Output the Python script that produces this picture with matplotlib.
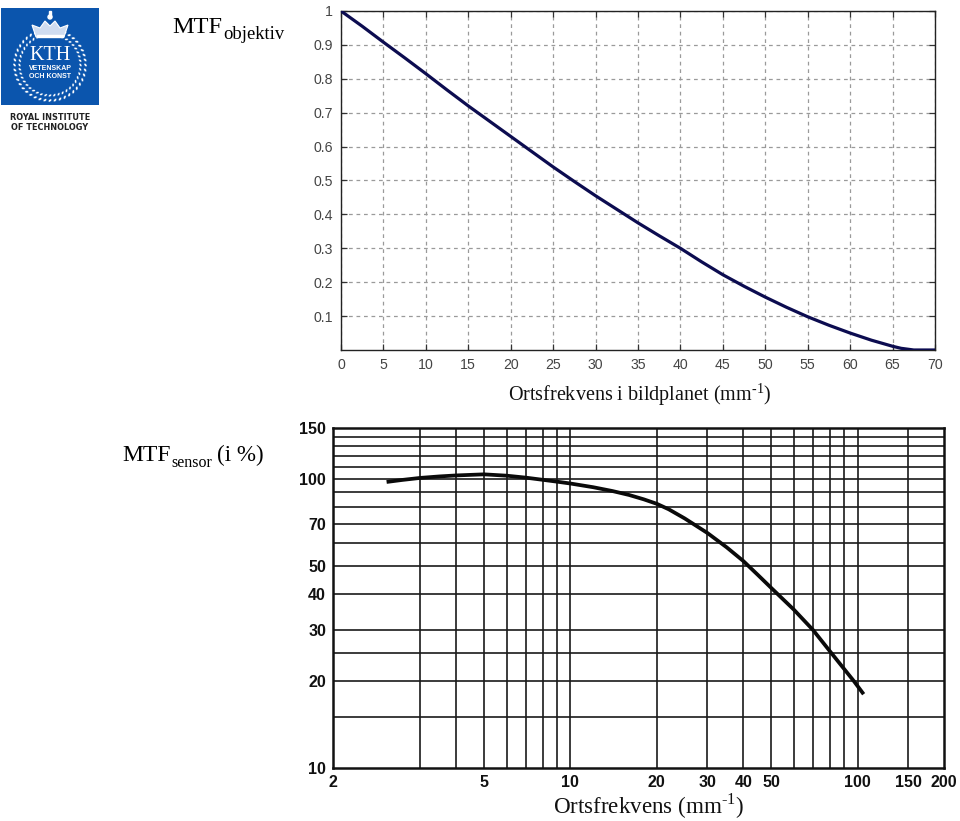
import matplotlib
matplotlib.use('Agg')
import matplotlib.pyplot as plt
from matplotlib.patches import Rectangle, Circle, Polygon, Ellipse
from matplotlib.ticker import NullLocator, NullFormatter
import numpy as np

plt.rcParams['mathtext.fontset'] = 'custom'
plt.rcParams['mathtext.rm'] = 'Liberation Serif'

W, H = 960, 821

# objective MTF (top plot)
obj_freq = [0, 2.5, 5, 7.5, 10, 12.5, 15, 17.5, 20, 22.5, 25, 27.5, 30, 32.5, 35, 37.5, 40,
            42.5, 45, 47.5, 50, 52.5, 55, 57.5, 60, 62.5, 65, 66, 67.5, 70]
obj_mtf = [1.0, 0.955, 0.908, 0.862, 0.815, 0.767, 0.72, 0.675, 0.63, 0.585, 0.54, 0.497,
           0.455, 0.415, 0.375, 0.337, 0.30, 0.26, 0.222, 0.188, 0.156, 0.126, 0.098, 0.073,
           0.05, 0.029, 0.011, 0.005, 0.0, 0.0]

# sensor MTF in % (bottom plot)
sensor_freq = [2.29, 2.6, 3, 3.5, 4, 5, 6, 7, 8, 9, 10, 12, 14, 16, 18, 20, 22, 25, 30, 35,
               40, 45, 50, 60, 70, 81, 97, 105]
sensor_mtf = [97.6, 99.2, 100.8, 102, 102.8, 103.7, 102.6, 101, 99.3, 97.8, 96.4, 93.6,
              90.8, 88, 85, 82, 78.5, 73, 65, 58, 52, 46.5, 42, 35.3, 30, 25, 20, 18]

obj_xticks = list(range(0, 75, 5))
obj_yticks = [0.1, 0.2, 0.3, 0.4, 0.5, 0.6, 0.7, 0.8, 0.9, 1]

# the printed diagram has its left border labelled 2, well left of the true 2
sensor_left = 1.49
sensor_xgrid = [3, 4, 5, 6, 7, 8, 9, 10, 20, 30, 40, 50, 60, 70, 80, 90, 100, 150]
sensor_xlabels = {sensor_left: '2', 5: '5', 10: '10', 20: '20', 30: '30', 40: '40',
                  50: '50', 100: '100', 150: '150', 200: '200'}
sensor_ygrid = [15, 20, 25, 30, 40, 50, 60, 70, 80, 90, 100, 110, 120, 130, 140]
sensor_ylabels = [10, 20, 30, 40, 50, 70, 100, 150]


def px_axes(fig, left, top, right, bottom):
    return fig.add_axes([left / W, 1 - bottom / H, (right - left) / W, (bottom - top) / H])


fig = plt.figure(figsize=(9.6, 8.21), dpi=100, facecolor='white')

# top plot
ax = px_axes(fig, 341, 11, 935, 350)
ax.plot(obj_freq, obj_mtf, color='#0c0c50', lw=2.3, zorder=3)
ax.set_xlim(0, 70)
ax.set_ylim(0, 1)
ax.set_xticks(obj_xticks)
ax.set_yticks(obj_yticks)
ax.set_yticklabels(['0.1', '0.2', '0.3', '0.4', '0.5', '0.6', '0.7', '0.8', '0.9', '1'])
ax.grid(True, color='#9a9a9a', ls=(0, (3, 3)), lw=0.9)
ax.tick_params(direction='in', length=4, width=0.9, top=True, right=True, color='#333333',
               labelcolor='#444444', labelsize=10.2, pad=6)
for lab in ax.get_xticklabels() + ax.get_yticklabels():
    lab.set_family('Liberation Sans')
for s in ax.spines.values():
    s.set_color('#222222')
    s.set_linewidth(1)

# bottom plot
ax2 = px_axes(fig, 333, 428, 944, 768)
ax2.set_xscale('log')
ax2.set_yscale('log')
ax2.plot(sensor_freq, sensor_mtf, color='#0a0a0a', lw=2.7, solid_capstyle='butt', zorder=3)
ax2.set_xlim(sensor_left, 200)
ax2.set_ylim(10, 150)
ax2.xaxis.set_minor_locator(NullLocator())
ax2.yaxis.set_minor_locator(NullLocator())
ax2.xaxis.set_minor_formatter(NullFormatter())
ax2.yaxis.set_minor_formatter(NullFormatter())
ax2.set_xticks(list(sensor_xlabels))
ax2.set_xticklabels(list(sensor_xlabels.values()))
ax2.set_yticks(sensor_ylabels)
ax2.set_yticklabels([str(v) for v in sensor_ylabels])
for v in sensor_xgrid:
    ax2.axvline(v, color='#1a1a1a', lw=1.2, zorder=1)
for v in sensor_ygrid:
    ax2.axhline(v, color='#1a1a1a', lw=1.2, zorder=1)
ax2.tick_params(length=0, labelsize=11.5, pad=5, labelcolor='#111111')
for lab in ax2.get_xticklabels() + ax2.get_yticklabels():
    lab.set_family('Liberation Sans')
    lab.set_fontweight('bold')
for s in ax2.spines.values():
    s.set_color('#111111')
    s.set_linewidth(1.8)

# captions
serif = 'Liberation Serif'
fig.text(172 / W, 1 - 33 / H, 'MTF', family=serif, fontsize=17.5, color='black')
fig.text(223 / W, 1 - 39 / H, 'objektiv', family=serif, fontsize=13.4, color='black')
fig.text(122 / W, 1 - 461 / H, 'MTF', family=serif, fontsize=17, color='black')
fig.text(171 / W, 1 - 467 / H, 'sensor', family=serif, fontsize=11.5, color='black')
fig.text(217 / W, 1 - 461 / H, '(i %)', family=serif, fontsize=16.7, color='black')
fig.text(508 / W, 1 - 401 / H, r'Ortsfrekvens i bildplanet (mm$^{\text{-}1}$)', family=serif,
         fontsize=14.5, color='#111111')
fig.text(553 / W, 1 - 814 / H, r'Ortsfrekvens (mm$^{\text{-}1}$)', family=serif,
         fontsize=16.6, color='#111111')

# logo
logo = px_axes(fig, 1, 8, 99, 105)
logo.set_xlim(0, 98)
logo.set_ylim(97, 0)
logo.set_axis_off()
logo.add_patch(Rectangle((0, 0), 98, 97, color='#0b55ad'))
for a in np.linspace(0, 2 * np.pi, 44, endpoint=False):
    if abs(a - 1.5 * np.pi) > 0.42:
        for r, s in [(30.5, 2.1), (35.5, 2.3)]:
            logo.add_patch(Ellipse((49 + r * np.cos(a), 57 + r * np.sin(a)), s * 1.7, s, angle=np.degrees(a) + 50,
                                   fc='white', ec='#0b55ad', lw=0.3))
logo.add_patch(Polygon([[35, 29], [31, 17], [39, 20], [44, 13], [49, 18], [54, 13], [59, 20], [67, 17], [63, 29]],
                       fc='#cfdcf0', ec='white', lw=0.8))
logo.add_patch(Rectangle((36, 27), 26, 2.5, color='white'))
logo.add_patch(Circle((49, 9), 2, color='white'))
logo.add_patch(Rectangle((48.3, 3), 1.4, 6, color='white'))
logo.text(49, 47, 'KTH', family=serif, color='white', fontsize=14.5, ha='center', va='center')
logo.text(49, 60, 'VETENSKAP', family='Liberation Sans', weight='bold', color='white', fontsize=5,
          ha='center', va='center')
logo.text(49, 68, 'OCH KONST', family='Liberation Sans', weight='bold', color='white', fontsize=5,
          ha='center', va='center')
fig.text(50 / W, 1 - 118 / H, 'ROYAL INSTITUTE', family='DejaVu Sans', weight='bold', fontsize=5.9,
         color='#222222', ha='center', va='center')
fig.text(50 / W, 1 - 127 / H, 'OF TECHNOLOGY', family='DejaVu Sans', weight='bold', fontsize=5.9,
         color='#222222', ha='center', va='center')

fig.savefig('out.png', dpi=100)
